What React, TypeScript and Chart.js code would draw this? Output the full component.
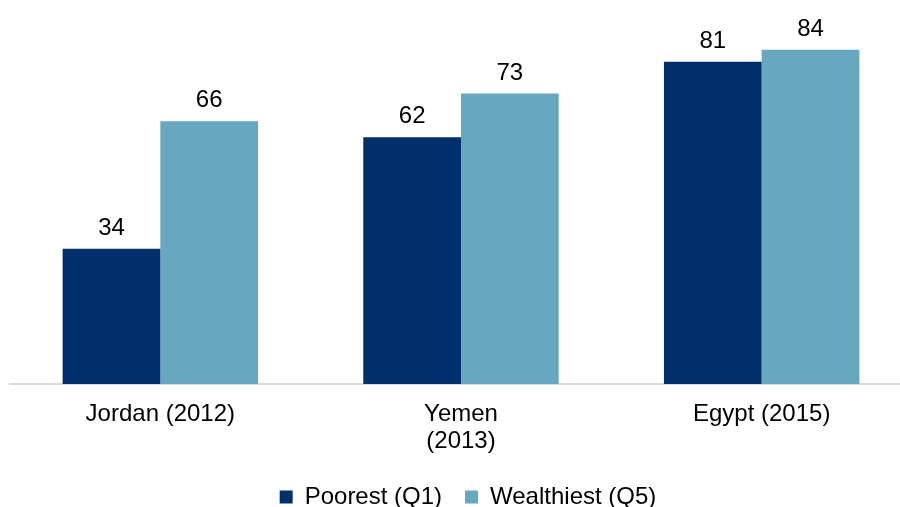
import React, { useEffect, useRef } from "react";
import { Chart, registerables } from "chart.js";

Chart.register(...registerables);

const categories: (string | string[])[] = ["Jordan (2012)", ["Yemen", "(2013)"], "Egypt (2015)"];
const poorest = [34, 62, 81];
const wealthiest = [66, 73, 84];
const seriesNames = ["Poorest (Q1)", "Wealthiest (Q5)"];
const colors = ["#00306b", "#65a8bf"];
const FONT = "Arial, 'Liberation Sans', sans-serif";

const valueLabels = {
  id: "valueLabels",
  afterDatasetsDraw(chart: any) {
    const ctx = chart.ctx;
    ctx.save();
    ctx.font = `24px ${FONT}`;
    ctx.fillStyle = "#000";
    ctx.textAlign = "center";
    ctx.textBaseline = "alphabetic";
    chart.data.datasets.forEach((ds: any, i: number) => {
      const meta = chart.getDatasetMeta(i);
      meta.data.forEach((bar: any, j: number) => {
        ctx.fillText(String(ds.data[j]), bar.x, bar.y - 14);
      });
    });
    ctx.restore();
  },
};

const legendShift = {
  id: "legendShift",
  afterLayout(chart: any) {
    const l = chart.legend;
    if (!l) return;
    l.left += 7;
    l.right += 7;
    l.top -= 2;
    l.bottom += 12;
  },
};

export default function App() {
  const ref = useRef<HTMLCanvasElement>(null);
  useEffect(() => {
    document.body.style.margin = "0";
    const chart = new Chart(ref.current!, {
      type: "bar",
      data: {
        labels: categories,
        datasets: [
          { label: seriesNames[0], data: poorest, backgroundColor: colors[0] },
          { label: seriesNames[1], data: wealthiest, backgroundColor: colors[1] },
        ],
      },
      options: {
        animation: false,
        responsive: false,
        maintainAspectRatio: false,
        layout: { padding: { left: 10, right: 0, top: 0, bottom: 0 } },
        datasets: { bar: { categoryPercentage: 0.65, barPercentage: 1 } },
        scales: {
          x: {
            grid: { display: false },
            border: { display: true, color: "#d9d9d9", width: 2 },
            ticks: {
              color: "#000",
              font: { size: 24, family: FONT, lineHeight: 1.125 },
              padding: 9,
              maxRotation: 0,
            },
          },
          y: { display: false, min: 0, max: 96.5 },
        },
        plugins: {
          legend: {
            position: "bottom",
            maxHeight: 43,
            labels: {
              color: "#000",
              font: { size: 24, family: FONT },
              boxWidth: 13,
              boxHeight: 13,
              padding: 23,
            },
          },
          tooltip: { enabled: false },
        },
      },
      plugins: [valueLabels, legendShift],
    });
    return () => chart.destroy();
  }, []);
  return (
    <div style={{ position: "fixed", left: 0, top: 0, width: 900, height: 507, overflow: "hidden", background: "#fff" }}>
      <canvas ref={ref} width={912} height={507} style={{ display: "block" }} />
    </div>
  );
}
